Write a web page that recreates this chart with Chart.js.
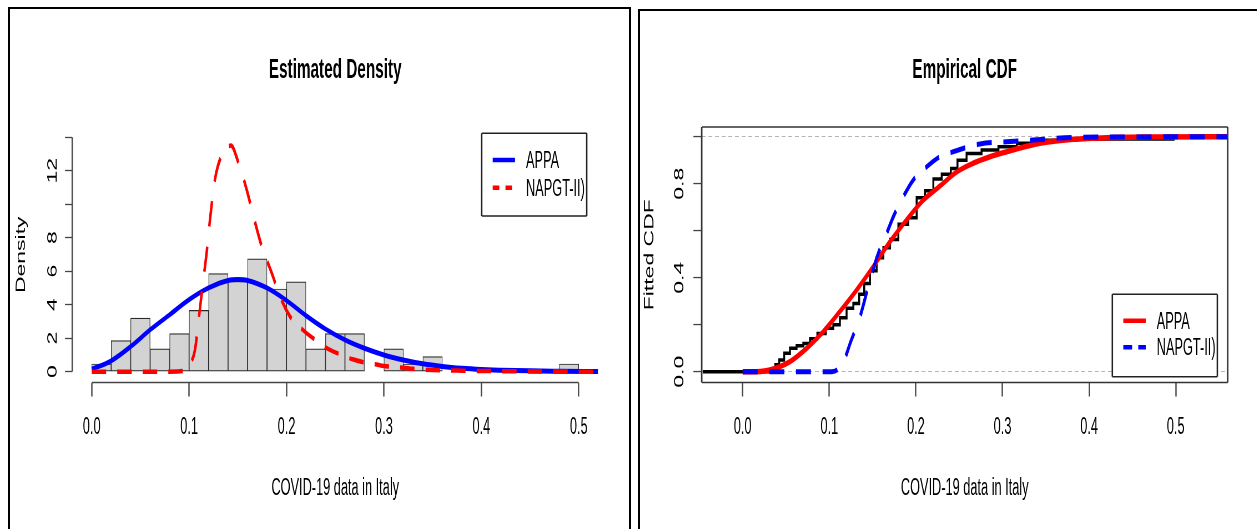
<!DOCTYPE html>
<html>
<head>
<meta charset="utf-8">
<script src="https://cdn.jsdelivr.net/npm/chart.js@4.4.1/dist/chart.umd.min.js"></script>
<style>
  html, body { margin: 0; padding: 0; background: #fff; width: 1257px; height: 529px; overflow: hidden; }
  body { position: relative; }
  .panel { position: absolute; top: 0; height: 529px; transform-origin: 0 0; }
  .frame { position: absolute; border: 2.3px solid #000; box-sizing: border-box; pointer-events: none; z-index: 5; }
</style>
</head>
<body>
<div class="panel" id="panelDensity" style="left:0;width:1142px;"><canvas id="density" width="1142" height="529"></canvas></div>
<div class="panel" id="panelCdf" style="left:634px;width:1123px;"><canvas id="cdf" width="1123" height="529"></canvas></div>
<div class="frame" style="left:8px;top:6.7px;width:622.7px;height:600px;"></div>
<div class="frame" style="left:638.3px;top:8.7px;width:700px;height:600px;"></div>

<script>
// ---------- data: COVID-19 data in Italy ----------
// histogram (bin mid-points, bin width 0.02) and its density heights
const histMids = [0.01, 0.03, 0.05, 0.07, 0.09, 0.11, 0.13, 0.15, 0.17, 0.19, 0.21, 0.23, 0.25,
                  0.27, 0.29, 0.31, 0.33, 0.35, 0.37, 0.39, 0.41, 0.43, 0.45, 0.47, 0.49];
const histDensity = [0.46, 1.86, 3.2, 1.36, 2.28, 3.66, 5.86, 5.4, 6.74, 4.94, 5.36, 1.36, 2.28,
                     2.28, 0, 1.36, 0.46, 0.9, 0, 0, 0, 0, 0, 0, 0.46];

// fitted densities
const appaX = [0, 0.02, 0.04, 0.06, 0.08, 0.10, 0.12, 0.14, 0.15, 0.16, 0.18, 0.20, 0.22, 0.24, 0.26,
               0.28, 0.30, 0.32, 0.34, 0.36, 0.38, 0.40, 0.42, 0.45, 0.48, 0.52];
const appaDensity = [0.15, 0.65, 1.5, 2.5, 3.4, 4.3, 5.0, 5.45, 5.5, 5.45, 5.0, 4.25, 3.35, 2.55, 1.9,
                     1.4, 1.0, 0.7, 0.47, 0.31, 0.2, 0.13, 0.09, 0.05, 0.03, 0.01];
const napgtX = [0, 0.08, 0.095, 0.1, 0.106, 0.11, 0.114, 0.118, 0.1215, 0.1266, 0.135, 0.143, 0.1505,
                0.159, 0.166, 0.1745, 0.1848, 0.1933, 0.2036, 0.212, 0.2207, 0.2344, 0.2447, 0.2567,
                0.268, 0.28, 0.291, 0.30, 0.32, 0.33, 0.35, 0.38, 0.42, 0.47, 0.52];
const napgtDensity = [0, 0, 0.05, 0.4, 1.3, 3.2, 5.2, 7.1, 9.1, 11.5, 13.1, 13.5, 12.5,
                      10.9, 9.3, 7.5, 5.9, 4.5, 3.3, 2.75, 2.3, 1.7, 1.3, 1.0,
                      0.74, 0.55, 0.45, 0.34, 0.24, 0.17, 0.1, 0.06, 0.03, 0.01, 0];

// empirical CDF (points on the staircase) and fitted CDFs
const ecdfX = [-0.046, 0.036, 0.0393, 0.045, 0.0508, 0.0584, 0.066, 0.074, 0.0815, 0.091, 0.1008, 0.1085,
               0.116, 0.1239, 0.1316, 0.1374, 0.1432, 0.1508, 0.1585, 0.1663, 0.174, 0.1855, 0.197,
               0.2047, 0.2163, 0.224, 0.2356, 0.245, 0.251, 0.266, 0.2856, 0.305, 0.328, 0.355,
               0.382, 0.496, 0.499, 0.56];
const ecdfF = [0, 0, 0.03, 0.05, 0.078, 0.1, 0.11, 0.12, 0.14, 0.163, 0.185, 0.2,
               0.23, 0.27, 0.29, 0.33, 0.375, 0.43, 0.485, 0.528, 0.563, 0.628, 0.655,
               0.74, 0.77, 0.82, 0.84, 0.865, 0.9, 0.929, 0.943, 0.957, 0.972, 0.985,
               0.99, 0.99, 1.0, 1.0];
const appaCdfX = [0, 0.016, 0.0353, 0.0546, 0.074, 0.093, 0.112, 0.1316, 0.1508, 0.170, 0.189, 0.2085,
                  0.2278, 0.247, 0.266, 0.2856, 0.305, 0.343, 0.3818, 0.42, 0.48, 0.56];
const appaCdf = [0, 0, 0.012, 0.043, 0.1, 0.17, 0.255, 0.348, 0.447, 0.553, 0.645, 0.73,
                 0.79, 0.85, 0.887, 0.915, 0.936, 0.972, 0.989, 0.996, 0.999, 1.0];
const napgtCdfX = [0, 0.1028, 0.11, 0.118, 0.124, 0.1355, 0.147, 0.1566, 0.1663, 0.174, 0.1855, 0.197,
                   0.2125, 0.2278, 0.243, 0.274, 0.305, 0.335, 0.382, 0.45, 0.56];
const napgtCdf = [0, 0, 0.01, 0.057, 0.12, 0.234, 0.39, 0.504, 0.589, 0.66, 0.745, 0.816,
                  0.872, 0.915, 0.936, 0.969, 0.979, 0.986, 0.997, 0.999, 1.0];

// tick values
const xTicks = [0, 0.1, 0.2, 0.3, 0.4, 0.5];
const densityTicks = [0, 2, 4, 6, 8, 10, 12, 14];
const densityTickLabels = ['0', '2', '4', '6', '8', '', '12', ''];
const cdfTicks = [0, 0.2, 0.4, 0.6, 0.8, 1.0];
const cdfTickLabels = ['0.0', '', '0.4', '', '0.8', ''];

// ---------- shared look ----------
const SQUEEZE = 0.555;   // the whole figure is horizontally condensed
document.getElementById('panelDensity').style.transform = `scaleX(${SQUEEZE})`;
document.getElementById('panelCdf').style.transform = `scaleX(${SQUEEZE})`;

const FONT = 'Liberation Sans, Arial, sans-serif';
const tickFont = {family: FONT, size: 23};
const AXIS = '#444';

Chart.defaults.font.family = FONT;
Chart.defaults.color = '#000';

const pts = (xs, ys) => xs.map((x, i) => ({x, y: ys[i]}));
const fixedWidth = w => s => { s.width = w; };
const fixedHeight = h => s => { s.height = h; };
const useTicks = vals => s => { s.ticks = vals.map(v => ({value: v})); };

// axis lines that only run between the first and last tick
const axisSegments = {
  id: 'axisSegments',
  beforeDatasetsDraw(chart, args, o) {
    const {ctx, chartArea, scales} = chart;
    ctx.save();
    ctx.strokeStyle = o.color;
    ctx.lineWidth = o.hWidth;
    ctx.beginPath();
    ctx.moveTo(scales.x.getPixelForValue(o.xFrom), chartArea.bottom);
    ctx.lineTo(scales.x.getPixelForValue(o.xTo), chartArea.bottom);
    ctx.stroke();
    ctx.lineWidth = o.vWidth;
    ctx.beginPath();
    ctx.moveTo(chartArea.left, scales.y.getPixelForValue(o.yFrom));
    ctx.lineTo(chartArea.left, scales.y.getPixelForValue(o.yTo));
    ctx.stroke();
    ctx.restore();
  }
};

// box around the plotting region
const plotBox = {
  id: 'plotBox',
  afterDatasetsDraw(chart, args, o) {
    const {ctx, chartArea: a} = chart;
    ctx.save();
    ctx.strokeStyle = o.color;
    ctx.lineWidth = o.hWidth;
    ctx.beginPath();
    ctx.moveTo(a.left, a.top); ctx.lineTo(a.right, a.top);
    ctx.moveTo(a.left, a.bottom); ctx.lineTo(a.right, a.bottom);
    ctx.stroke();
    ctx.lineWidth = o.vWidth;
    ctx.beginPath();
    ctx.moveTo(a.left, a.top); ctx.lineTo(a.left, a.bottom);
    ctx.moveTo(a.right, a.top); ctx.lineTo(a.right, a.bottom);
    ctx.stroke();
    ctx.restore();
  }
};

// framed legend built from the line datasets
const boxLegend = {
  id: 'boxLegend',
  afterDraw(chart, args, o) {
    const {ctx} = chart;
    const b = o.box;
    ctx.save();
    ctx.fillStyle = '#fff';
    ctx.fillRect(b.x0, b.y0, b.x1 - b.x0, b.y1 - b.y0);
    ctx.strokeStyle = '#222';
    ctx.lineWidth = 1.5;
    ctx.beginPath();
    ctx.moveTo(b.x0, b.y0); ctx.lineTo(b.x1, b.y0);
    ctx.moveTo(b.x0, b.y1); ctx.lineTo(b.x1, b.y1);
    ctx.stroke();
    ctx.lineWidth = 2.6;
    ctx.beginPath();
    ctx.moveTo(b.x0, b.y0); ctx.lineTo(b.x0, b.y1);
    ctx.moveTo(b.x1, b.y0); ctx.lineTo(b.x1, b.y1);
    ctx.stroke();
    o.rows.forEach((row, i) => {
      const ds = chart.data.datasets.find(d => d.label === o.labels[i]);
      ctx.strokeStyle = ds.borderColor;
      ctx.lineWidth = o.lineWidth;
      ctx.setLineDash(ds.borderDash && ds.borderDash.length ? o.dash : []);
      ctx.beginPath();
      ctx.moveTo(o.lineX0, row);
      ctx.lineTo(o.lineX1, row);
      ctx.stroke();
      ctx.setLineDash([]);
      ctx.fillStyle = '#000';
      ctx.font = `23px ${FONT}`;
      ctx.textAlign = 'left';
      ctx.textBaseline = 'middle';
      ctx.fillText(ds.label, o.textX, row + 1.5);
    });
    ctx.restore();
  }
};

const titleOpts = text => ({
  display: true, text, fullSize: false, color: '#000',
  font: {family: FONT, size: 27.6, weight: 'bold', lineHeight: 1.2},
  padding: {top: 54, bottom: 39.9}
});
const xTitle = {display: true, text: 'COVID-19 data in Italy', color: '#000',
                font: {family: FONT, size: 23, lineHeight: 1.2}, padding: {top: 0, bottom: 27}};

// ---------- Estimated Density ----------
new Chart(document.getElementById('density'), {
  type: 'bar',
  data: {
    datasets: [
      {
        type: 'line', label: 'NAPGT-II)', data: pts(napgtX, napgtDensity), order: 0,
        borderColor: '#ff0000', borderWidth: 4.5, borderDash: [26, 20], pointRadius: 0,
        cubicInterpolationMode: 'monotone', fill: false
      },
      {
        type: 'line', label: 'APPA', data: pts(appaX, appaDensity), order: 1,
        borderColor: '#0000ff', borderWidth: 5, pointRadius: 0,
        cubicInterpolationMode: 'monotone', fill: false
      },
      {
        type: 'bar', label: 'hist', data: pts(histMids, histDensity), order: 2,
        backgroundColor: '#d3d3d3', borderColor: '#2a2a2a', borderWidth: 1.2,
        borderSkipped: false, barPercentage: 1, categoryPercentage: 1
      }
    ]
  },
  options: {
    responsive: false, animation: false, devicePixelRatio: 1,
    layout: {padding: {left: 0, right: 64.2, top: 0, bottom: 0}},
    plugins: {
      legend: {display: false}, tooltip: {enabled: false},
      title: titleOpts('Estimated Density'),
      axisSegments: {color: AXIS, hWidth: 1.4, vWidth: 2.4, xFrom: 0, xTo: 0.5, yFrom: 0, yTo: 14},
      boxLegend: {
        box: {x0: 867.9, y0: 133.3, x1: 1057.1, y1: 216},
        labels: ['APPA', 'NAPGT-II)'], rows: [160, 187.7],
        lineX0: 887.7, lineX1: 927.9, textX: 947.7, lineWidth: 4.5, dash: [12, 11]
      }
    },
    scales: {
      x: {
        type: 'linear', min: -0.02, max: 0.52, offset: false,
        afterBuildTicks: useTicks(xTicks), afterFit: fixedHeight(146.5),
        grid: {display: true, drawOnChartArea: false, drawTicks: true, tickLength: 14,
               tickColor: AXIS, tickWidth: 2.4, offset: false},
        border: {display: false},
        ticks: {autoSkip: false, maxRotation: 0, padding: 17.5, font: tickFont, color: '#000',
                callback: v => v.toFixed(1)},
        title: xTitle
      },
      y: {
        type: 'linear', min: -0.645, max: 14.61, beginAtZero: false,
        afterBuildTicks: useTicks(densityTicks), afterFit: fixedWidth(130.1),
        grid: {display: true, drawOnChartArea: false, drawTicks: true, tickLength: 13,
               tickColor: AXIS, tickWidth: 1.3},
        border: {display: false},
        ticks: {autoSkip: false, minRotation: 90, maxRotation: 90, crossAlign: 'center',
                padding: 9, font: tickFont, color: '#000',
                callback: (v, i) => densityTickLabels[i]},
        title: {display: true, text: 'Density', color: '#000',
                font: {family: FONT, size: 23, lineHeight: 1.2}, padding: {top: 25, bottom: 0}}
      }
    }
  },
  plugins: [axisSegments, boxLegend]
});

// ---------- Empirical CDF ----------
new Chart(document.getElementById('cdf'), {
  type: 'line',
  data: {
    datasets: [
      {
        label: 'NAPGT-II)', data: pts(napgtCdfX, napgtCdf), order: 0,
        borderColor: '#0000ff', borderWidth: 5, borderDash: [27, 21], pointRadius: 0,
        cubicInterpolationMode: 'monotone', fill: false
      },
      {
        label: 'APPA', data: pts(appaCdfX, appaCdf), order: 1,
        borderColor: '#ff0000', borderWidth: 5.5, pointRadius: 0,
        cubicInterpolationMode: 'monotone', fill: false
      },
      {
        label: 'ecdf', data: pts(ecdfX, ecdfF), order: 2,
        borderColor: '#000000', borderWidth: 3.5, pointRadius: 0, stepped: 'middle', fill: false
      }
    ]
  },
  options: {
    responsive: false, animation: false, devicePixelRatio: 1,
    layout: {padding: {left: 0, right: 53.3, top: 0, bottom: 0}},
    plugins: {
      legend: {display: false}, tooltip: {enabled: false},
      title: titleOpts('Empirical CDF'),
      plotBox: {color: '#333', hWidth: 1.6, vWidth: 2.8},
      boxLegend: {
        box: {x0: 861.8, y0: 294.3, x1: 1051, y1: 376.7},
        labels: ['APPA', 'NAPGT-II)'], rows: [320.7, 347.3],
        lineX0: 881.6, lineX1: 922, textX: 941.8, lineWidth: 4.5, dash: [16, 11]
      }
    },
    scales: {
      x: {
        type: 'linear', min: -0.0473, max: 0.56, offset: false,
        afterBuildTicks: useTicks(xTicks), afterFit: fixedHeight(146.5),
        grid: {display: true, drawOnChartArea: false, drawTicks: true, tickLength: 14,
               tickColor: AXIS, tickWidth: 2.4, offset: false},
        border: {display: false},
        ticks: {autoSkip: false, maxRotation: 0, padding: 17, font: tickFont, color: '#000',
                callback: v => v.toFixed(1)},
        title: xTitle
      },
      y: {
        type: 'linear', min: -0.046, max: 1.0413, beginAtZero: false,
        afterBuildTicks: useTicks(cdfTicks), afterFit: fixedWidth(122),
        grid: {display: true, drawOnChartArea: true, drawTicks: true, tickLength: 15,
               lineWidth: 1.1,
               color: c => (c.tick && (c.tick.value === 0 || c.tick.value === 1)) ? '#b5b5b5' : 'rgba(0,0,0,0)',
               tickColor: AXIS, tickWidth: 1.3},
        border: {display: false, dash: [7, 5]},
        ticks: {autoSkip: false, minRotation: 90, maxRotation: 90, crossAlign: 'center',
                padding: 8.1, font: tickFont, color: '#000',
                callback: (v, i) => cdfTickLabels[i]},
        title: {display: true, text: 'Fitted CDF', color: '#000',
                font: {family: FONT, size: 23, lineHeight: 1.2}, padding: {top: 15, bottom: 0}}
      }
    }
  },
  plugins: [plotBox, boxLegend]
});
</script>
</body>
</html>
